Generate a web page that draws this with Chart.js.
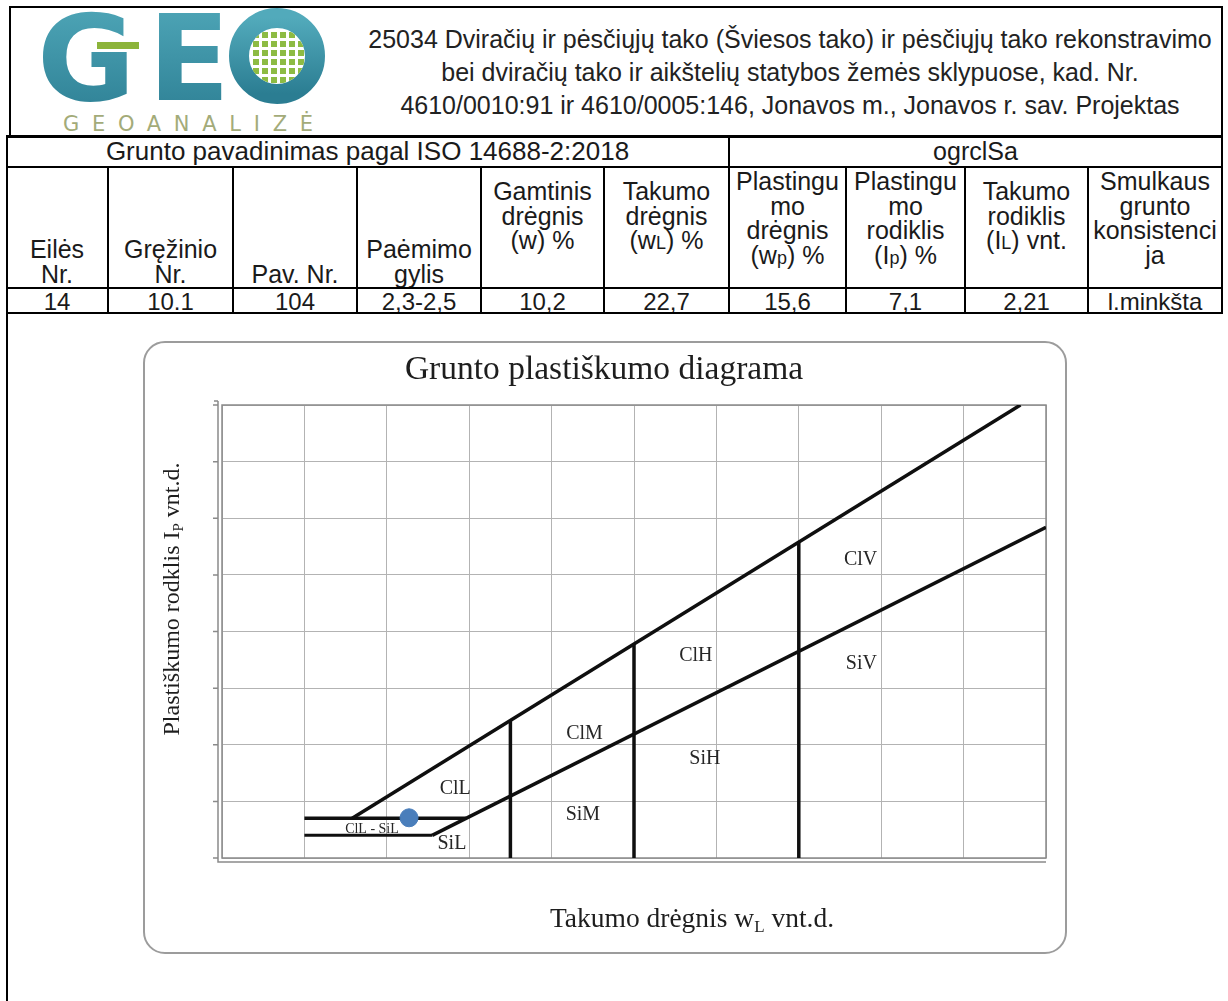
<!DOCTYPE html>
<html lang="lt">
<head>
<meta charset="utf-8">
<title>Grunto plastiškumo diagrama</title>
<script src="https://cdn.jsdelivr.net/npm/chart.js@4.4.1/dist/chart.umd.min.js"></script>
<style>
  html, body { margin: 0; padding: 0; background: #fff; }
  body {
    width: 1228px; height: 1001px; position: relative; overflow: hidden;
    font-family: "Liberation Sans", Arial, sans-serif; color: #1a1a1a;
  }
  .abs { position: absolute; box-sizing: border-box; }
  .hl { position: absolute; background: #000; }
  .box { border: 2px solid #000; }
  .head-text { font-size: 25px; line-height: 33px; text-align: center; color: #222; }
  .cell { position: absolute; box-sizing: border-box; display: flex; flex-direction: column; align-items: center;
          font-size: 25px; line-height: 24.5px; text-align: center; white-space: nowrap; }
  .cell.bottom { justify-content: flex-end; padding-bottom: 2px; }
  .cell.mid { justify-content: flex-start; padding-top: 11px; }
  .cell.top { justify-content: flex-start; padding-top: 1px; }
  .val { position: absolute; text-align: center; font-family: "Liberation Sans Narrow", "Liberation Sans", sans-serif;
         font-size: 24px; line-height: 25px; }
  .s { font-size: 72%; }
  .frame { left: 143px; top: 341px; width: 924px; height: 613px; border: 2px solid #9c9c9c; border-radius: 22px; }
</style>
</head>
<body>

<div class="abs box" style="left:9px;top:6px;width:1214px;height:131px"></div>

<svg class="abs" style="left:10px;top:8px" width="330" height="128" viewBox="0 0 330 128">
  <defs>
    <linearGradient id="teal" x1="0" y1="0" x2="0" y2="1">
      <stop offset="0" stop-color="#52aabb"/>
      <stop offset="1" stop-color="#2b7d92"/>
    </linearGradient>
    <clipPath id="ocore"><circle cx="267" cy="48" r="28"/></clipPath>
  </defs>
  <text x="27" y="92" font-family="DejaVu Sans" font-weight="bold" font-size="120" fill="url(#teal)">G</text>
  <text x="138" y="92" font-family="DejaVu Sans" font-weight="bold" font-size="120" fill="url(#teal)">E</text>
  <circle cx="267" cy="48" r="38" fill="none" stroke="url(#teal)" stroke-width="20"/>
  <g id="dots" clip-path="url(#ocore)" fill="#8dbb43"></g>
  <rect x="87" y="34" width="42" height="7" fill="#8cb43a"/>
  <text x="53" y="123" font-family="DejaVu Sans" font-size="21" fill="#a3ab79" textLength="250" lengthAdjust="spacing">GEOANALIZĖ</text>
</svg>

<div class="abs head-text" style="left:358px;top:23px;width:864px">
  25034 Dviračių ir pėsčiųjų tako (Šviesos tako) ir pėsčiųjų tako rekonstravimo<br>
  bei dviračių tako ir aikštelių statybos žemės sklypuose, kad. Nr.<br>
  4610/0010:91 ir 4610/0005:146, Jonavos m., Jonavos r. sav. Projektas
</div>

<div id="table"></div>

<div class="abs frame"></div>
<canvas id="plasticity" class="abs" style="left:143px;top:340px" width="925" height="616"></canvas>

<script>
// plasticity chart boundaries (vnt.d.)
const upperLineWL = [0.158, 0.969];
const upperLineIP = [0.07, 0.8];
const aLineWL = [0.255, 1.0];
const aLineIP = [0.04, 0.584];
const clSiTopWL = [0.1, 0.296];
const clSiTopIP = [0.07, 0.07];
const clSiBottomWL = [0.1, 0.255];
const clSiBottomIP = [0.04, 0.04];
const splitWL = [0.35, 0.5, 0.7];
const splitTopIP = [0.243, 0.378, 0.558];

// sample (wL = 22,7 %, Ip = 7,1 %)
const sampleWL = [0.227];
const sampleIP = [0.071];

const zoneNames = ["ClL", "ClM", "ClH", "ClV", "SiL", "SiM", "SiH", "SiV", "ClL - SiL"];
const zoneWL = [0.283, 0.44, 0.575, 0.775, 0.279, 0.438, 0.586, 0.776, 0.182];
const zoneIP = [0.123, 0.219, 0.358, 0.526, 0.025, 0.076, 0.175, 0.343, 0.051];

// table
const colEdges = [6, 108, 233, 357, 481, 604, 729, 846, 965, 1088, 1222];
const headCells = [
  ["bottom", ["Eilės", "Nr."]],
  ["bottom", ["Gręžinio", "Nr."]],
  ["bottom", ["Pav. Nr."]],
  ["bottom", ["Paėmimo", "gylis"]],
  ["mid", ["Gamtinis", "drėgnis", "(w) %"]],
  ["mid", ["Takumo", "drėgnis", "(w<span class=s>L</span>) %"]],
  ["top", ["Plastingu", "mo", "drėgnis", "(w<span class=s>p</span>) %"]],
  ["top", ["Plastingu", "mo", "rodiklis", "(I<span class=s>p</span>) %"]],
  ["mid", ["Takumo", "rodiklis", "(I<span class=s>L</span>) vnt."]],
  ["top", ["Smulkaus", "grunto", "konsistenci", "ja"]],
];
const rowValues = ["14", "10.1", "104", "2,3-2,5", "10,2", "22,7", "15,6", "7,1", "2,21", "l.minkšta"];

function line(x, y, w, h) {
  return `<div class="hl" style="left:${x}px;top:${y}px;width:${w}px;height:${h}px"></div>`;
}

function buildTable() {
  let html = "";
  html += `<div class="abs" style="left:6px;top:136px;width:723px;height:31px;font-size:26px;line-height:31px;text-align:center">Grunto pavadinimas pagal ISO 14688-2:2018</div>`;
  html += `<div class="abs" style="left:729px;top:136px;width:493px;height:31px;font-size:25px;line-height:31px;text-align:center">ogrclSa</div>`;
  for (let i = 0; i < headCells.length; i++) {
    const [mode, lines] = headCells[i];
    const x0 = colEdges[i], x1 = colEdges[i + 1];
    html += `<div class="cell ${mode}" style="left:${x0}px;top:168px;width:${x1 - x0}px;height:120px">` +
      lines.map((t) => `<div>${t}</div>`).join("") + `</div>`;
    html += `<div class="val" style="left:${x0}px;top:289px;width:${x1 - x0}px">${rowValues[i]}</div>`;
  }
  // horizontal rules
  html += line(6, 135, 1217, 3);
  html += line(6, 166, 1217, 2);
  html += line(6, 287, 1217, 2);
  html += line(6, 312, 1217, 2);
  // vertical rules
  html += line(6, 135, 2, 866);
  html += line(1221, 135, 2, 179);
  html += line(728, 135, 2, 32);
  for (let i = 1; i < colEdges.length - 1; i++) html += line(colEdges[i] - 1, 166, 2, 148);
  document.getElementById("table").innerHTML = html;
}

function buildLogoDots() {
  const g = document.getElementById("dots");
  let s = "";
  for (let r = 0; r < 6; r++) {
    for (let c = 0; c < 6; c++) {
      s += `<rect x="${243 + c * 9}" y="${24 + r * 9}" width="6" height="6"/>`;
    }
  }
  g.innerHTML = s;
}

function pts(xs, ys) {
  return xs.map((x, i) => ({ x: x, y: ys[i] }));
}

function boundary(xs, ys, width) {
  return {
    data: pts(xs, ys),
    showLine: true,
    borderColor: "#0f0f0f",
    borderWidth: width,
    pointRadius: 0,
    fill: false,
  };
}

function drawParts(ctx, parts, cx, cy) {
  // parts: [text, fontSize, dy]
  let total = 0;
  parts.forEach((p) => {
    ctx.font = `${p[1]}px "Liberation Serif", "Times New Roman", serif`;
    total += ctx.measureText(p[0]).width;
  });
  let x = cx - total / 2;
  ctx.textAlign = "left";
  ctx.textBaseline = "alphabetic";
  parts.forEach((p) => {
    ctx.font = `${p[1]}px "Liberation Serif", "Times New Roman", serif`;
    ctx.fillText(p[0], x, cy + p[2]);
    x += ctx.measureText(p[0]).width;
  });
}

const diagramText = {
  id: "diagramText",
  beforeDatasetsDraw(chart) {
    const ctx = chart.ctx;
    const { left, right, top, bottom } = chart.chartArea;
    const sy = chart.scales.y;
    ctx.save();
    ctx.strokeStyle = "#8a8a8a";
    ctx.lineWidth = 1.5;
    ctx.strokeRect(left, top, right - left, bottom - top);
    ctx.beginPath();
    ctx.moveTo(left - 4, top - 4);
    ctx.lineTo(left - 4, bottom + 4);
    ctx.lineTo(right, bottom + 4);
    ctx.moveTo(left - 8, top - 4);
    ctx.lineTo(left - 4, top - 4);
    sy.ticks.forEach((t) => {
      const y = sy.getPixelForValue(t.value);
      ctx.moveTo(left - 9, y);
      ctx.lineTo(left - 4, y);
    });
    ctx.stroke();
    ctx.restore();
  },
  afterDatasetsDraw(chart) {
    const ctx = chart.ctx;
    const sx = chart.scales.x, sy = chart.scales.y;
    ctx.save();
    ctx.fillStyle = "#262626";
    ctx.textAlign = "center";
    ctx.textBaseline = "middle";
    zoneNames.forEach((name, i) => {
      const size = name.length > 4 ? 14 : 20;
      ctx.font = `${size}px "Liberation Serif", "Times New Roman", serif`;
      ctx.fillText(name, sx.getPixelForValue(zoneWL[i]), sy.getPixelForValue(zoneIP[i]));
    });

    ctx.fillStyle = "#1e1e1e";
    drawParts(ctx, [["Grunto plastiškumo diagrama", 33.5, 0]], 461, 39);
    drawParts(ctx, [["Takumo drėgnis w", 27.5, 0], ["L", 17, 5], [" vnt.d.", 27.5, 0]], 549, 587);

    ctx.translate(28, 259);
    ctx.rotate(-Math.PI / 2);
    drawParts(ctx, [["Plastiškumo rodklis I", 24, 0], ["P", 15, 4], [" vnt.d.", 24, 0]], 0, 8);
    ctx.restore();
  },
};

buildTable();
buildLogoDots();

new Chart(document.getElementById("plasticity"), {
  type: "scatter",
  data: {
    datasets: [
      {
        data: pts(sampleWL, sampleIP),
        backgroundColor: "#4a7ebb",
        borderColor: "#4a7ebb",
        pointRadius: 9,
        pointHoverRadius: 9,
      },
      boundary(upperLineWL, upperLineIP, 3.5),
      boundary(aLineWL, aLineIP, 3.5),
      boundary(clSiTopWL, clSiTopIP, 3.5),
      boundary(clSiBottomWL, clSiBottomIP, 3),
      boundary([splitWL[0], splitWL[0]], [0, splitTopIP[0]], 3.5),
      boundary([splitWL[1], splitWL[1]], [0, splitTopIP[1]], 3.5),
      boundary([splitWL[2], splitWL[2]], [0, splitTopIP[2]], 3.5),
    ],
  },
  options: {
    responsive: false,
    animation: false,
    devicePixelRatio: 1,
    layout: { padding: { left: 79, top: 65, right: 22, bottom: 98 } },
    plugins: {
      legend: { display: false },
      tooltip: { enabled: false },
    },
    scales: {
      x: {
        type: "linear",
        min: 0,
        max: 1,
        ticks: { display: false, stepSize: 0.1 },
        grid: { color: "#b3b3b3", lineWidth: 1, drawTicks: false },
        border: { display: false },
      },
      y: {
        type: "linear",
        min: 0,
        max: 0.8,
        ticks: { display: false, stepSize: 0.1 },
        grid: { color: "#b3b3b3", lineWidth: 1, drawTicks: false },
        border: { display: false },
      },
    },
  },
  plugins: [diagramText],
});
</script>
</body>
</html>
